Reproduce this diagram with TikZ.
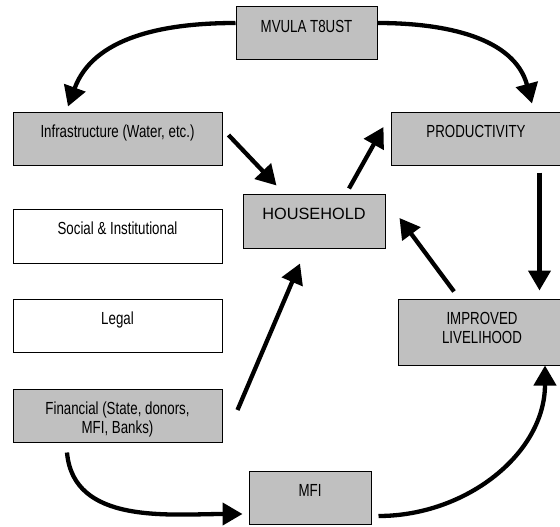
\documentclass[tikz,border=0pt]{standalone}
\usepackage{fontspec}
\setmainfont{Liberation Sans}
\newfontfamily\narrowfont{Liberation Sans}[FakeStretch=0.76]
\usetikzlibrary{arrows.meta}
\definecolor{boxgray}{RGB}{192,192,192}

\begin{document}
\begin{tikzpicture}[x=1pt, y=-1pt,
    box/.style={draw=black, line width=1pt, inner sep=0pt, minimum height=53pt},
    boxtext/.style={anchor=base, yshift=-26pt, align=center, inner sep=0pt,
      font=\narrowfont\fontsize{17.5}{19}\selectfont},
    twolines/.style={boxtext, yshift=-19pt},
    flow/.style={line width=4.3pt, -{Triangle[length=20pt, width=22pt]}}]
  \useasboundingbox (0,0) rectangle (560,527);

  \draw (306.5, 33.5) node [box, fill=boxgray, minimum width=141pt,
    label={[boxtext]north:MVULA T8UST}] (trust) {};

  \draw (117.5, 138.5) node [box, fill=boxgray, minimum width=209pt,
    label={[boxtext]north:Infrastructure (Water, etc.)}] (infra) {};
  \draw (476, 138.5) node [box, fill=boxgray, minimum width=170pt,
    label={[boxtext]north:PRODUCTIVITY}] (prod) {};

  \draw (314, 221) node [box, fill=boxgray, minimum width=142pt, minimum height=54pt,
    label={[boxtext, font=\fontsize{16.3}{19}\selectfont]north:HOUSEHOLD}] (house) {};

  \draw (117.5, 236) node [box, fill=white, minimum width=209pt, minimum height=54pt,
    label={[boxtext]north:Social \& Institutional}] (social) {};
  \draw (117.5, 325.5) node [box, fill=white, minimum width=209pt,
    label={[boxtext]north:Legal}] (legal) {};

  \draw (482, 332) node [box, fill=boxgray, minimum width=168pt, minimum height=66pt,
    label={[twolines]north:IMPROVED\\LIVELIHOOD}] (improved) {};

  \draw (117.5, 415.5) node [box, fill=boxgray, minimum width=209pt,
    label={[twolines]north:Financial (State, donors,\\MFI, Banks)}] (fin) {};
  \draw (310, 497.5) node [box, fill=boxgray, minimum width=122pt,
    label={[boxtext]north:MFI}] (mfi) {};

  % flows
  \draw [flow] ([shift={(0,-10.5)}]trust.west) to[out=180, in=70] ([shift={(-49.5,-5)}]infra.north);
  \draw [flow] ([shift={(0,-10.5)}]trust.east) to[out=0, in=105] ([shift={(56,-8)}]prod.north);
  \draw [flow] ([shift={(6,-3.5)}]infra.east) -- ([shift={(34,-8)}]house.north west);
  \draw [flow] ([shift={(35,-5)}]house.north) -- ([shift={(-7,-11.5)}]prod.west);
  \draw [flow] ([shift={(63.5,7)}]prod.south) -- ([shift={(57.5,-8)}]improved.north);
  \draw [flow] ([shift={(-28,-7)}]improved.north) -- ([shift={(14,-3)}]house.east);
  \draw [flow] ([shift={(15,-5.5)}]fin.east) -- ([shift={(-14,15)}]house.south);
  \draw [flow] ([shift={(-50.5,10)}]fin.south) to[out=-85, in=180] ([shift={(-6,16.5)}]mfi.west);
  \draw [flow] ([shift={(7,18.5)}]mfi.east) to[out=0, in=-90] ([shift={(63,0)}]improved.south);
\end{tikzpicture}
\end{document}
